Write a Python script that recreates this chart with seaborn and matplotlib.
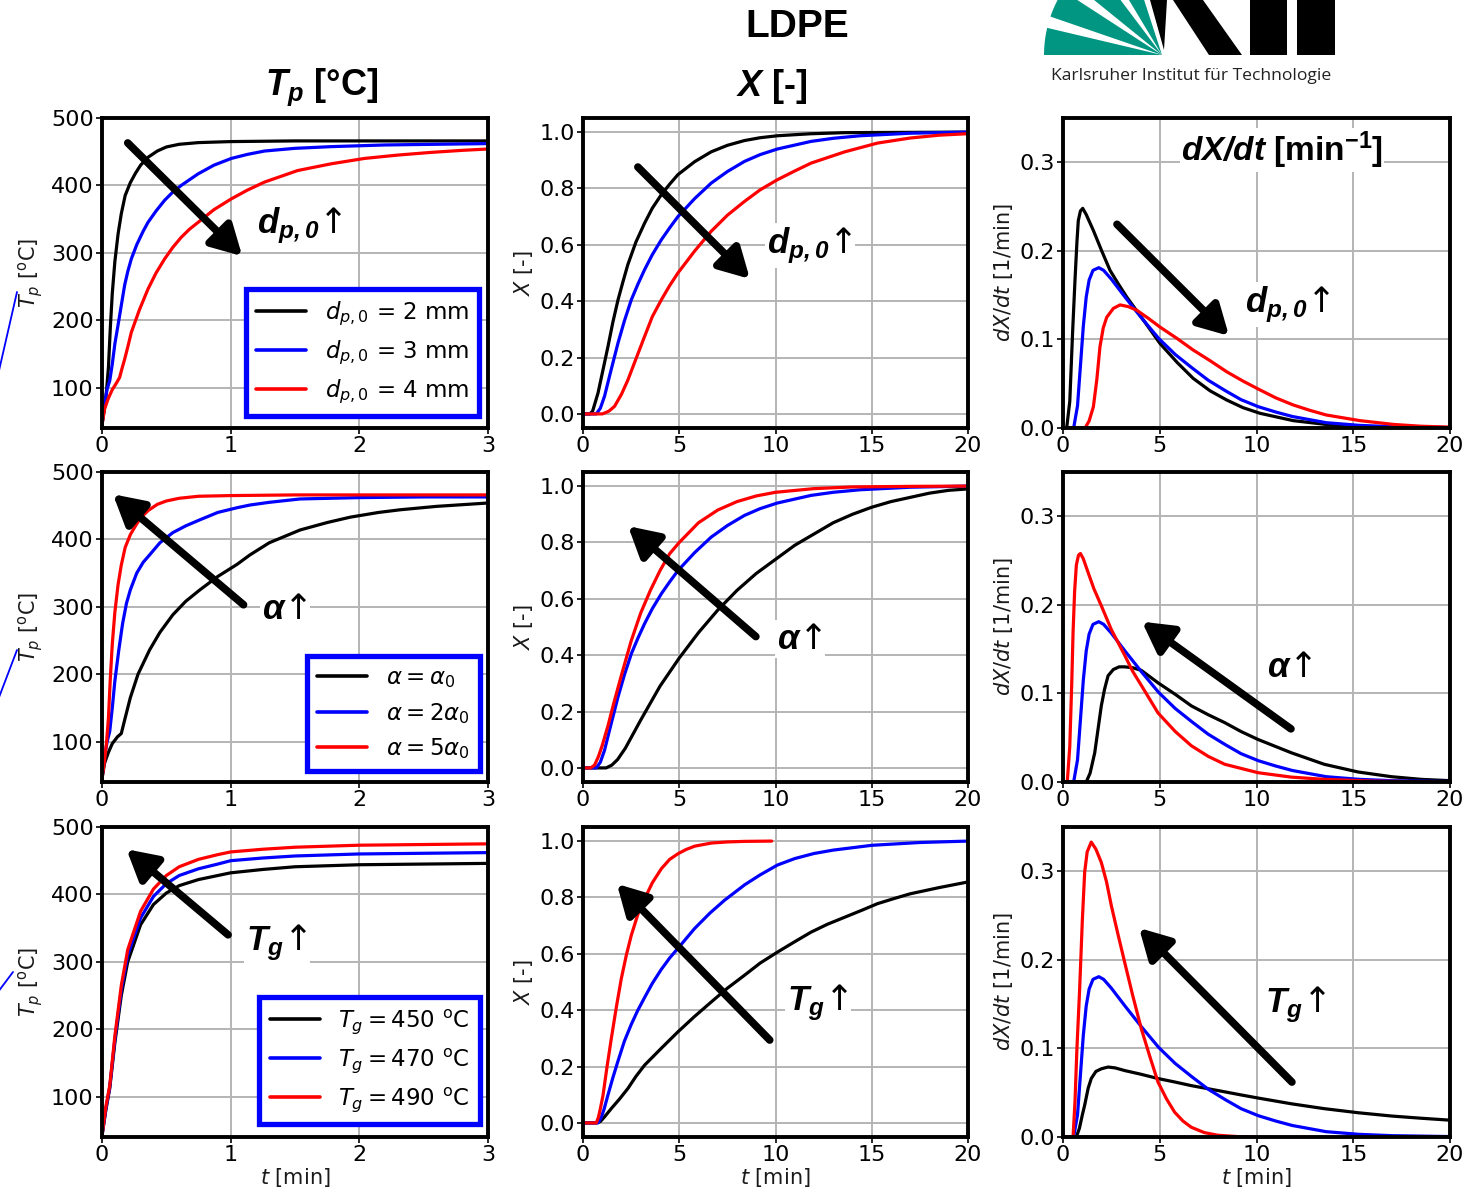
import numpy as np
import pandas as pd
import matplotlib
matplotlib.use("Agg")
import matplotlib.pyplot as plt
import seaborn as sns
from matplotlib.patches import Polygon
from matplotlib.lines import Line2D

# ---------------- data ----------------
# Row 1 : particle diameter d_p,0 = 2 / 3 / 4 mm
tp_d2_t = [0, 0.02, 0.035, 0.05, 0.065, 0.08, 0.10, 0.125, 0.15, 0.18, 0.22, 0.26, 0.30, 0.36, 0.43, 0.50, 0.60, 0.75, 1.0, 1.5, 2.0, 3.0]
tp_d2 = [45, 70, 95, 130, 190, 240, 287, 328, 358, 385, 404, 418, 430, 442, 451, 457, 461, 463.5, 465, 466, 466, 466]
tp_d3_t = [0, 0.02, 0.04, 0.06, 0.08, 0.10, 0.124, 0.15, 0.176, 0.20, 0.228, 0.27, 0.32, 0.357, 0.42, 0.487, 0.55, 0.616, 0.746, 0.87, 1.005, 1.13, 1.264, 1.5, 1.78, 2.2, 2.6, 3.0]
tp_d3 = [45, 75, 98, 110, 135, 165, 192, 222, 252, 272, 291, 312, 332, 345, 362, 378, 390, 400, 417, 430, 440, 446, 451, 455, 457.5, 460, 461, 462]
tp_d4_t = [0, 0.02, 0.047, 0.08, 0.11, 0.137, 0.155, 0.176, 0.20, 0.228, 0.29, 0.357, 0.42, 0.487, 0.55, 0.616, 0.68, 0.746, 0.87, 1.005, 1.13, 1.264, 1.40, 1.52, 1.78, 2.04, 2.30, 2.56, 2.80, 3.0]
tp_d4 = [45, 68, 83, 97, 106, 115, 128, 142, 160, 182, 215, 246, 270, 291, 308, 323, 335, 345, 364, 380, 393, 405, 414, 422, 432, 440, 445, 449, 452, 454]

x_d2_t = [0, 0.35, 0.5, 0.78, 1.05, 1.30, 1.55, 1.82, 2.08, 2.33, 2.75, 3.2, 3.6, 4.07, 4.5, 4.93, 5.8, 6.66, 7.5, 8.39, 9.2, 10.1, 11.8, 13.6, 20]
x_d2 = [0, 0, 0.01, 0.074, 0.16, 0.24, 0.325, 0.405, 0.47, 0.53, 0.61, 0.677, 0.73, 0.778, 0.815, 0.849, 0.895, 0.93, 0.953, 0.97, 0.98, 0.987, 0.994, 0.998, 1.0]
x_d3_t = [0, 0.69, 0.9, 1.12, 1.4, 1.82, 2.15, 2.51, 2.85, 3.2, 3.6, 4.07, 4.5, 4.93, 5.8, 6.66, 7.5, 8.39, 9.2, 10.1, 11.85, 13.0, 14.4, 17.0, 20]
x_d3 = [0, 0, 0.02, 0.063, 0.14, 0.252, 0.33, 0.405, 0.46, 0.512, 0.565, 0.618, 0.66, 0.70, 0.764, 0.819, 0.86, 0.896, 0.92, 0.94, 0.967, 0.978, 0.987, 0.996, 1.0]
x_d4_t = [0, 1.0, 1.12, 1.35, 1.64, 2.0, 2.33, 2.75, 3.2, 3.6, 4.07, 4.5, 4.93, 5.8, 6.66, 7.5, 8.39, 9.2, 10.1, 11.0, 11.85, 13.6, 15.3, 17.0, 18.5, 19.9]
x_d4 = [0, 0, 0.003, 0.01, 0.027, 0.07, 0.12, 0.195, 0.275, 0.345, 0.405, 0.455, 0.50, 0.578, 0.648, 0.705, 0.754, 0.795, 0.831, 0.862, 0.89, 0.93, 0.961, 0.979, 0.989, 0.994]

r_d2_t = [0, 0.19, 0.35, 0.5, 0.62, 0.72, 0.79, 0.9, 1.02, 1.2, 1.57, 2.0, 2.43, 2.85, 3.29, 4.15, 5.01, 5.9, 6.73, 7.6, 8.46, 9.3, 10.18, 11.9, 13.6, 15.4, 17.0, 20]
r_d2 = [0, 0, 0.03, 0.11, 0.167, 0.21, 0.234, 0.245, 0.248, 0.241, 0.223, 0.20, 0.178, 0.163, 0.148, 0.122, 0.0955, 0.074, 0.056, 0.042, 0.0316, 0.023, 0.0166, 0.0083, 0.004, 0.0015, 0.0005, 0.0]
r_base_t = [0, 0.55, 0.75, 0.9, 1.05, 1.2, 1.35, 1.55, 1.85, 2.1, 2.5, 3.2, 4.07, 4.95, 5.8, 6.66, 7.5, 8.4, 9.2, 10.1, 11.0, 11.85, 13.6, 15.3, 17.0, 20]
r_base = [0, 0, 0.025, 0.07, 0.115, 0.148, 0.167, 0.178, 0.181, 0.178, 0.168, 0.148, 0.124, 0.101, 0.083, 0.068, 0.054, 0.042, 0.032, 0.024, 0.018, 0.013, 0.006, 0.003, 0.0015, 0.0005]
r_d4_t = [0, 1.14, 1.35, 1.57, 1.75, 1.91, 2.08, 2.26, 2.6, 2.95, 3.38, 3.81, 4.4, 5.01, 5.9, 6.73, 7.6, 8.46, 9.3, 10.18, 11.0, 11.9, 12.75, 13.6, 15.35, 17.1, 18.5, 20]
r_d4 = [0, 0, 0.008, 0.024, 0.055, 0.0917, 0.113, 0.125, 0.135, 0.139, 0.137, 0.133, 0.124, 0.114, 0.101, 0.088, 0.076, 0.0635, 0.053, 0.043, 0.034, 0.026, 0.02, 0.0147, 0.0083, 0.004, 0.002, 0.001]

# Row 2 : heat transfer coefficient alpha = a0 / 2a0 / 5a0
tp_a1_t = [0, 0.02, 0.05, 0.08, 0.12, 0.15, 0.18, 0.22, 0.28, 0.37, 0.45, 0.55, 0.65, 0.76, 0.9, 1.05, 1.15, 1.3, 1.54, 1.75, 1.93, 2.15, 2.32, 2.6, 3.0]
tp_a1 = [45, 68, 84, 97, 107, 112, 135, 165, 200, 236, 262, 288, 308, 325, 345, 363, 377, 395, 414, 425, 433, 440, 444, 449, 454]
tp_a2_t = [0, 0.02, 0.04, 0.06, 0.08, 0.10, 0.13, 0.16, 0.19, 0.22, 0.27, 0.32, 0.37, 0.45, 0.55, 0.65, 0.76, 0.9, 1.05, 1.15, 1.3, 1.54, 2.0, 2.5, 3.0]
tp_a2 = [45, 78, 100, 115, 150, 190, 235, 275, 305, 325, 350, 366, 377, 395, 410, 420, 429, 440, 447, 451, 455, 460, 462, 463, 463]
tp_a5_t = [0, 0.02, 0.035, 0.05, 0.065, 0.08, 0.10, 0.125, 0.15, 0.18, 0.22, 0.26, 0.30, 0.36, 0.43, 0.50, 0.60, 0.75, 1.0, 1.5, 2.0, 3.0]
tp_a5 = [45, 72, 98, 135, 195, 245, 292, 333, 362, 388, 407, 420, 432, 443, 452, 457, 461, 464, 465, 466, 466, 466]

x_a1_t = [0, 1.2, 1.5, 1.8, 2.2, 2.6, 3.0, 3.5, 4.0, 5.0, 6.0, 7.0, 8.0, 9.0, 10.0, 11.0, 12.0, 13.0, 14.0, 15.0, 16.0, 17.0, 18.0, 19.0, 20.0]
x_a1 = [0, 0, 0.01, 0.03, 0.07, 0.12, 0.17, 0.23, 0.29, 0.39, 0.48, 0.56, 0.63, 0.69, 0.74, 0.79, 0.83, 0.87, 0.90, 0.925, 0.945, 0.96, 0.975, 0.985, 0.99]
x_a2_t = x_d3_t
x_a2 = x_d3
x_a5_t = [0, 0.4, 0.6, 0.8, 1.0, 1.3, 1.6, 2.0, 2.5, 3.0, 3.5, 4.0, 4.5, 5.0, 6.0, 7.0, 8.0, 9.0, 10.0, 12.0, 14.0, 17.0, 20.0]
x_a5 = [0, 0, 0.01, 0.04, 0.08, 0.15, 0.23, 0.33, 0.45, 0.55, 0.63, 0.70, 0.76, 0.80, 0.87, 0.915, 0.945, 0.965, 0.978, 0.991, 0.997, 0.999, 1.0]

r_a1_t = [0, 1.2, 1.4, 1.64, 1.8, 1.98, 2.15, 2.33, 2.6, 2.9, 3.19, 3.6, 4.05, 4.91, 5.8, 6.63, 7.5, 8.36, 9.2, 10.08, 11.8, 13.5, 15.25, 16.97, 18.5, 20]
r_a1 = [0, 0, 0.01, 0.033, 0.058, 0.086, 0.105, 0.12, 0.127, 0.130, 0.130, 0.129, 0.126, 0.112, 0.099, 0.086, 0.076, 0.067, 0.057, 0.048, 0.033, 0.020, 0.0113, 0.006, 0.003, 0.0015]
r_a2_t = r_base_t
r_a2 = r_base
r_a5_t = [0, 0.22, 0.35, 0.45, 0.52, 0.6, 0.69, 0.8, 0.9, 1.05, 1.29, 1.6, 1.98, 2.5, 3.19, 3.6, 4.05, 4.91, 5.8, 6.63, 7.5, 8.36, 10.08, 11.8, 13.5, 16.0, 20]
r_a5 = [0, 0, 0.04, 0.11, 0.169, 0.215, 0.245, 0.256, 0.258, 0.252, 0.237, 0.218, 0.199, 0.172, 0.143, 0.125, 0.109, 0.078, 0.057, 0.041, 0.029, 0.020, 0.0105, 0.0055, 0.003, 0.001, 0.0]

# Row 3 : gas temperature T_g = 450 / 470 / 490 C
tp_g450_t = [0, 0.03, 0.06, 0.1, 0.15, 0.2, 0.3, 0.4, 0.5, 0.6, 0.75, 0.9, 1.0, 1.25, 1.5, 2.0, 2.5, 3.0]
tp_g450 = [42, 80, 112, 180, 250, 300, 355, 385, 402, 413, 422, 428, 432, 437, 441, 444, 445, 446]
tp_g470_t = tp_g450_t
tp_g470 = [42, 82, 114, 185, 258, 310, 365, 397, 416, 428, 438, 445, 450, 454, 457, 460, 461, 462]
tp_g490_t = tp_g450_t
tp_g490 = [42, 85, 116, 190, 265, 318, 375, 408, 428, 441, 452, 459, 463, 467, 470, 473, 474, 475]

x_g450_t = [0, 0.69, 0.9, 1.1, 1.47, 1.9, 2.33, 2.75, 3.2, 4.07, 4.93, 5.8, 6.66, 7.5, 8.39, 9.2, 10.1, 11.0, 11.85, 12.7, 13.6, 14.5, 15.3, 16.2, 17.0, 18.5, 20]
x_g450 = [0, 0, 0.005, 0.02, 0.051, 0.085, 0.122, 0.165, 0.205, 0.265, 0.323, 0.378, 0.429, 0.478, 0.524, 0.567, 0.606, 0.643, 0.677, 0.705, 0.73, 0.755, 0.778, 0.797, 0.813, 0.835, 0.855]
x_g470_t = [0, 0.78, 0.95, 1.1, 1.3, 1.55, 1.82, 2.15, 2.51, 2.85, 3.2, 3.6, 4.07, 4.5, 5.0, 5.8, 6.6, 7.35, 8.4, 9.2, 10.1, 11.0, 12.0, 13.0, 15.0, 17.5, 20]
x_g470 = [0, 0, 0.02, 0.05, 0.1, 0.16, 0.22, 0.29, 0.35, 0.40, 0.445, 0.495, 0.545, 0.585, 0.625, 0.69, 0.745, 0.79, 0.845, 0.88, 0.915, 0.938, 0.956, 0.968, 0.985, 0.995, 1.0]
x_g490_t = [0, 0.69, 0.8, 0.9, 1.04, 1.25, 1.47, 1.73, 1.99, 2.25, 2.51, 2.85, 3.2, 3.6, 4.07, 4.5, 4.93, 5.35, 5.8, 6.66, 7.5, 8.4, 9.8]
x_g490 = [0, 0, 0.02, 0.05, 0.098, 0.2, 0.299, 0.41, 0.512, 0.595, 0.666, 0.74, 0.795, 0.852, 0.902, 0.935, 0.955, 0.97, 0.982, 0.993, 0.997, 0.999, 1.0]

r_g450_t = [0, 0.69, 0.85, 1.0, 1.12, 1.3, 1.46, 1.7, 1.98, 2.33, 2.7, 3.19, 4.0, 4.91, 5.8, 6.63, 7.5, 8.36, 9.2, 10.08, 11.8, 13.5, 15.25, 16.97, 18.5, 20]
r_g450 = [0, 0, 0.01, 0.025, 0.036, 0.055, 0.066, 0.074, 0.077, 0.079, 0.078, 0.075, 0.071, 0.066, 0.062, 0.058, 0.0545, 0.051, 0.0475, 0.044, 0.0375, 0.032, 0.0274, 0.0237, 0.0212, 0.019]
r_g470_t = r_base_t
r_g470 = r_base
r_g490_t = [0, 0.52, 0.62, 0.72, 0.86, 1.0, 1.12, 1.25, 1.46, 1.7, 1.98, 2.25, 2.5, 2.85, 3.19, 3.6, 4.05, 4.5, 4.91, 5.35, 5.77, 6.2, 6.63, 7.3, 8.0, 9.0, 9.9]
r_g490 = [0, 0, 0.04, 0.10, 0.167, 0.245, 0.299, 0.322, 0.333, 0.325, 0.31, 0.288, 0.261, 0.228, 0.197, 0.16, 0.122, 0.09, 0.062, 0.043, 0.028, 0.018, 0.011, 0.005, 0.002, 0.0005, 0.0]

labels_d = [r"$d_{p,0}$ = 2 mm", r"$d_{p,0}$ = 3 mm", r"$d_{p,0}$ = 4 mm"]
labels_a = [r"$\alpha = \alpha_0$", r"$\alpha = 2\alpha_0$", r"$\alpha = 5\alpha_0$"]
labels_g = [r"$T_g = 450$ $^{\rm o}$C", r"$T_g = 470$ $^{\rm o}$C", r"$T_g = 490$ $^{\rm o}$C"]
colors = ["#000000", "#0000ff", "#ff0000"]

# ---------------- figure ----------------
sns.set_style("whitegrid")
plt.rcParams["font.family"] = ["DejaVu Sans"]
plt.rcParams["mathtext.fontset"] = "dejavusans"
for k in ["text.color", "axes.labelcolor", "xtick.color", "ytick.color"]:
    plt.rcParams[k] = "black"
# a custom math font set (Arial-like) for the bold headings
plt.rcParams["mathtext.rm"] = "Liberation Sans"
plt.rcParams["mathtext.it"] = "Liberation Sans:italic"
plt.rcParams["mathtext.bf"] = "Liberation Sans:bold"
try:
    plt.rcParams["mathtext.bfit"] = "Liberation Sans:bold:italic"
except KeyError:
    pass
HEAD = dict(family="Liberation Sans", fontweight="bold", math_fontfamily="custom")
ARROWLAB = dict(family=["DejaVu Sans"], fontweight="normal", math_fontfamily="custom")

W, H = 1462, 1192
fig = plt.figure(figsize=(W / 100, H / 100), dpi=100)


def fx(x):
    return x / W


def fy(y):
    return 1 - y / H


col_x = [(102, 488), (583, 968), (1063, 1450)]
row_y = [(118, 428), (472, 782), (827, 1137)]

axes = [[None] * 3 for _ in range(3)]
for r, (y0, y1) in enumerate(row_y):
    for c, (x0, x1) in enumerate(col_x):
        axes[r][c] = fig.add_axes([fx(x0), fy(y1), (x1 - x0) / W, (y1 - y0) / H])

panels = [
    [[(tp_d2_t, tp_d2), (tp_d3_t, tp_d3), (tp_d4_t, tp_d4)],
     [(x_d2_t, x_d2), (x_d3_t, x_d3), (x_d4_t, x_d4)],
     [(r_d2_t, r_d2), (r_base_t, r_base), (r_d4_t, r_d4)]],
    [[(tp_a1_t, tp_a1), (tp_a2_t, tp_a2), (tp_a5_t, tp_a5)],
     [(x_a1_t, x_a1), (x_a2_t, x_a2), (x_a5_t, x_a5)],
     [(r_a1_t, r_a1), (r_a2_t, r_a2), (r_a5_t, r_a5)]],
    [[(tp_g450_t, tp_g450), (tp_g470_t, tp_g470), (tp_g490_t, tp_g490)],
     [(x_g450_t, x_g450), (x_g470_t, x_g470), (x_g490_t, x_g490)],
     [(r_g450_t, r_g450), (r_g470_t, r_g470), (r_g490_t, r_g490)]],
]
row_labels = [labels_d, labels_a, labels_g]

xlims = [(0, 3), (0, 20), (0, 20)]
ylims = [(40, 500), (-0.05, 1.05), (0, 0.35)]
xticks = [[0, 1, 2, 3], [0, 5, 10, 15, 20], [0, 5, 10, 15, 20]]
yticks = [[100, 200, 300, 400, 500], [0.0, 0.2, 0.4, 0.6, 0.8, 1.0], [0.0, 0.1, 0.2, 0.3]]
yfmt = ["{:.0f}", "{:.1f}", "{:.1f}"]
ylabels = [r"$T_p$ [$^{\rm o}$C]", r"$X$ [-]", r"$dX/dt$ [1/min]"]
ylab_x = [-0.148, -0.125, -0.124]
leg_anchor = [(0.977, 0.039), (0.979, 0.035), (0.979, 0.042)]

for r in range(3):
    for c in range(3):
        ax = axes[r][c]
        for i, (t, y) in enumerate(panels[r][c]):
            df = pd.DataFrame({"t": t, "y": y})
            sns.lineplot(data=df, x="t", y="y", ax=ax, color=colors[i], lw=2.3,
                         estimator=None, sort=False, legend=False)
        ax.set_xlim(*xlims[c])
        ax.set_ylim(*ylims[c])
        ax.set_xticks(xticks[c])
        ax.set_xticklabels([str(v) for v in xticks[c]])
        ax.set_yticks(yticks[c])
        ax.set_yticklabels([yfmt[c].format(v) for v in yticks[c]])
        ax.grid(True, color="#b4b4b4", lw=1.4)
        ax.set_axisbelow(True)
        for s in ax.spines.values():
            s.set_color("black")
            s.set_linewidth(2.8)
        ax.tick_params(axis="both", which="major", length=4, width=1.2, pad=2,
                       labelsize=16, colors="black", direction="out", left=True, bottom=True)
        ax.set_ylabel(ylabels[c], fontsize=15, color="#1a1a1a")
        ax.yaxis.set_label_coords(ylab_x[c], 0.5)
        if r == 2:
            ax.set_xlabel(r"$t$ [min]", fontsize=15, color="#1a1a1a")
            ax.xaxis.set_label_coords(0.5, -0.095)
        else:
            ax.set_xlabel("")
        if c == 0:
            handles = [Line2D([0], [0], color=colors[i], lw=2.6) for i in range(3)]
            leg = ax.legend(handles, row_labels[r], loc="lower right",
                            bbox_to_anchor=leg_anchor[r], fontsize=16.5, frameon=True,
                            fancybox=False, framealpha=1, handlelength=2.2,
                            labelspacing=0.45, borderpad=0.45, handletextpad=0.8,
                            borderaxespad=0)
            fr = leg.get_frame()
            fr.set_edgecolor("#0000ff")
            fr.set_linewidth(3.8)
            fr.set_facecolor("white")

# ---------------- arrows and arrow labels ----------------
arrow_specs = [
    (0, 0, (0.20, 463), (1.09, 295)),
    (0, 1, (2.85, 0.876), (8.67, 0.479)),
    (0, 2, (2.79, 0.23), (8.58, 0.104)),
    (1, 0, (1.10, 303), (0.085, 467)),
    (1, 1, (8.98, 0.466), (2.34, 0.858)),
    (1, 2, (11.78, 0.06), (4.08, 0.181)),
    (2, 0, (0.98, 340), (0.19, 467)),
    (2, 1, (9.7, 0.294), (1.76, 0.848)),
    (2, 2, (11.83, 0.062), (3.93, 0.236)),
]
for r, c, tail, head in arrow_specs:
    axes[r][c].annotate("", xy=head, xytext=tail,
                        arrowprops=dict(arrowstyle="-|>,head_length=0.9,head_width=0.5",
                                        lw=5.5, color="black", shrinkA=0, shrinkB=0,
                                        mutation_scale=20))

lab_d = r"$\mathbfit{d}_{\mathbfit{p,0}}$↑"
lab_a = r"$\mathbfit{\alpha}$↑"
lab_g = r"$\mathbfit{T}_{\mathbfit{g}}$↑"
text_specs = [
    (0, 0, (1.54, 341), lab_d),
    (0, 1, (11.78, 0.596), lab_d),
    (0, 2, (11.63, 0.139), lab_d),
    (1, 0, (1.42, 296), lab_a),
    (1, 1, (11.26, 0.456), lab_a),
    (1, 2, (11.73, 0.13), lab_a),
    (2, 0, (1.36, 328), lab_g),
    (2, 1, (12.2, 0.426), lab_g),
    (2, 2, (12.04, 0.149), lab_g),
]
for r, c, pos, s in text_specs:
    axes[r][c].text(pos[0], pos[1], s, fontsize=25, ha="center", va="center", **ARROWLAB,
                    bbox=dict(facecolor="white", edgecolor="none", pad=1.5), zorder=5)

# ---------------- titles ----------------
fig.text(fx(797), fy(27), "LDPE", fontsize=28, ha="center", va="center", **HEAD)
fig.text(fx(322), fy(87), r"$\mathbfit{T_p}$ [°C]", fontsize=26, ha="center", va="center", **HEAD)
fig.text(fx(772), fy(87), r"$\mathbfit{X}$ [-]", fontsize=26, ha="center", va="center", **HEAD)
axes[0][2].text(0.566, 0.897, r"$\mathbfit{dX/dt}$ [min$^{\mathbf{-1}}$]", fontsize=24,
                ha="center", va="center", transform=axes[0][2].transAxes, **HEAD,
                bbox=dict(facecolor="white", edgecolor="none", pad=1.0), zorder=6)

# ---------------- KIT logo (decoration) ----------------
apex = (1162, 55)
green = "#009682"
for a0, a1 in [(0, 13.3), (19, 33), (39, 53), (59, 72)]:
    L = 118
    pts = [apex]
    for a in np.linspace(a0, a1, 6):
        rad = np.deg2rad(a)
        pts.append((apex[0] - L * np.cos(rad), apex[1] - L * np.sin(rad)))
    fig.add_artist(Polygon([(fx(p[0]), fy(p[1])) for p in pts], closed=True,
                           transform=fig.transFigure, facecolor=green, edgecolor="none",
                           clip_on=False))
black_shapes = [
    [(1150, 0), (1167, 0), (1164, 50)],
    [(1173, 0), (1203, 0), (1242, 55), (1209, 55)],
    [(1250, 0), (1287, 0), (1287, 55), (1250, 55)],
    [(1297, 0), (1335, 0), (1335, 55), (1297, 55)],
]
for shp in black_shapes:
    fig.add_artist(Polygon([(fx(p[0]), fy(p[1])) for p in shp], closed=True,
                           transform=fig.transFigure, facecolor="black", edgecolor="none"))
fig.text(fx(1051), fy(76), "Karlsruher Institut für Technologie", fontsize=12.6,
         family="Open Sans", ha="left", va="center", color="#222222")

# thin blue lines at the left edge (leftovers of the original layout)
for (xa, ya), (xb, yb) in [((17, 292), (-2, 375)), ((17, 650), (-2, 700)), ((13, 972), (-2, 992))]:
    fig.add_artist(Line2D([fx(xa), fx(xb)], [fy(ya), fy(yb)], color="#0000ff", lw=1.3,
                          transform=fig.transFigure))

fig.savefig("out.png", dpi=100)
